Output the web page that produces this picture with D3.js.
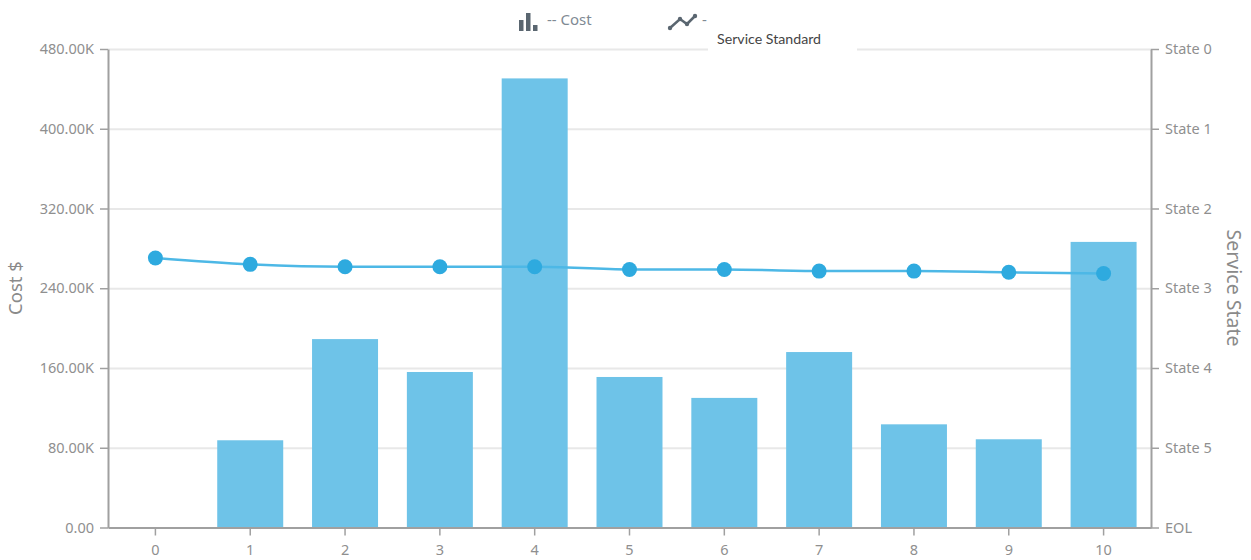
<!DOCTYPE html>
<meta charset="utf-8">
<style>
  html, body { margin: 0; padding: 0; background: #fff; }
  svg { display: block; }
  .axis text { font-family: "Noto Sans", sans-serif; font-size: 14.5px; fill: #8f8f8f; }
  .axis path, .axis line { stroke: #a0a0a0; }
  .axis path { stroke-width: 2px; }
  .axis line { stroke-width: 1.5px; }
  .grid line { stroke: #e8e8e8; stroke-width: 2px; }
  .grid path { display: none; }
  .title { font-family: "Noto Sans", sans-serif; text-anchor: middle; fill: #8a8a8a; }
  .legend { font-family: "Noto Sans", sans-serif; font-size: 15px; fill: #7f8a94; }
</style>
<body>
<div id="chart"></div>
<script src="https://d3js.org/d3.v7.min.js"></script>
<script>
  var categories = ["0", "1", "2", "3", "4", "5", "6", "7", "8", "9", "10"];
  var cost = [0, 87.5, 189, 156, 450.5, 151, 130, 176, 103.5, 88.5, 286.5];
  var serviceState = [2.62, 2.70, 2.73, 2.73, 2.73, 2.765, 2.765, 2.785, 2.785, 2.80, 2.815];
  var costTicks = [0, 80, 160, 240, 320, 400, 480];
  var stateLabels = ["State 0", "State 1", "State 2", "State 3", "State 4", "State 5", "EOL"];

  var width = 1251,
      height = 560,
      margin = {top: 49, right: 100, bottom: 32.5, left: 108};

  var innerW = width - margin.left - margin.right,
      innerH = height - margin.top - margin.bottom;

  var svg = d3.select("#chart").append("svg")
      .attr("width", width)
      .attr("height", height);

  var g = svg.append("g")
      .attr("transform", "translate(" + margin.left + "," + margin.top + ")");

  var x = d3.scaleBand().domain(categories).range([0, innerW]).paddingInner(0.304).paddingOuter(0.152);
  var yCost = d3.scaleLinear().domain([0, 480]).range([innerH, 0]);
  var yState = d3.scaleLinear().domain([0, 6]).range([0, innerH]);

  // gridlines sit behind the bars
  g.append("g")
      .attr("class", "grid")
      .call(d3.axisLeft(yCost).tickValues(costTicks).tickSize(-innerW).tickFormat(""));

  g.selectAll(".bar")
      .data(categories)
      .enter().append("rect")
      .attr("class", "bar")
      .attr("x", function(d) { return x(d); })
      .attr("width", x.bandwidth())
      .attr("y", function(d, i) { return yCost(cost[i]); })
      .attr("height", function(d, i) { return innerH - yCost(cost[i]); })
      .attr("fill", "#6ec3e8");

  g.append("g")
      .attr("class", "axis")
      .call(d3.axisLeft(yCost).tickValues(costTicks).tickSize(8).tickSizeOuter(0).tickPadding(6)
        .tickFormat(function(d) { return d === 0 ? "0.00" : d.toFixed(2) + "K"; }));

  g.append("g")
      .attr("class", "axis")
      .attr("transform", "translate(" + innerW + ",0)")
      .call(d3.axisRight(yState).tickValues(d3.range(7)).tickSize(8).tickSizeOuter(0).tickPadding(6)
        .tickFormat(function(d) { return stateLabels[d]; }));

  g.append("g")
      .attr("class", "axis")
      .attr("transform", "translate(0," + innerH + ")")
      .call(d3.axisBottom(x).tickSize(8).tickSizeOuter(0).tickPadding(9));

  // service standard line and markers
  var line = d3.line()
      .x(function(d, i) { return x(categories[i]) + x.bandwidth() / 2; })
      .y(function(d) { return yState(d); })
      .curve(d3.curveMonotoneX);

  g.append("path")
      .datum(serviceState)
      .attr("fill", "none")
      .attr("stroke", "#4db8e6")
      .attr("stroke-width", 2.5)
      .attr("d", line);

  g.selectAll(".dot")
      .data(serviceState)
      .enter().append("circle")
      .attr("class", "dot")
      .attr("cx", function(d, i) { return x(categories[i]) + x.bandwidth() / 2; })
      .attr("cy", function(d) { return yState(d); })
      .attr("r", 7.5)
      .attr("fill", "#2eaadf");

  // axis titles
  svg.append("text")
      .attr("class", "title")
      .attr("font-size", 18.5)
      .attr("transform", "translate(22,288) rotate(-90)")
      .text("Cost $");

  svg.append("text")
      .attr("class", "title")
      .attr("font-size", 19.5)
      .attr("transform", "translate(1227,288) rotate(90)")
      .text("Service State");

  // legend
  var legend = svg.append("g");
  var iconColor = "#5a6670";

  [[519, 20, 31], [526, 13, 31], [533, 25, 31]].forEach(function(b) {
    legend.append("rect")
        .attr("x", b[0]).attr("y", b[1])
        .attr("width", 4.5).attr("height", b[2] - b[1])
        .attr("fill", iconColor);
  });

  legend.append("text")
      .attr("class", "legend")
      .attr("x", 547).attr("y", 25)
      .text("-- Cost");

  var icon = [[670, 28], [680, 19], [687, 24], [695, 16]];
  legend.append("path")
      .attr("d", d3.line()(icon))
      .attr("fill", "none")
      .attr("stroke", iconColor)
      .attr("stroke-width", 2.5);
  legend.selectAll(".pip")
      .data(icon)
      .enter().append("circle")
      .attr("cx", function(d) { return d[0]; })
      .attr("cy", function(d) { return d[1]; })
      .attr("r", 2.2)
      .attr("fill", iconColor);

  legend.append("text")
      .attr("class", "legend")
      .attr("x", 702).attr("y", 25)
      .text("-");

  // white label box over the top gridline
  svg.append("rect")
      .attr("x", 708).attr("y", 22)
      .attr("width", 149).attr("height", 34)
      .attr("fill", "#fff");

  svg.append("text")
      .attr("x", 717).attr("y", 44)
      .attr("font-family", "Lato, sans-serif")
      .attr("font-size", 14.2)
      .attr("fill", "#444")
      .text("Service Standard");
</script>
</body>
